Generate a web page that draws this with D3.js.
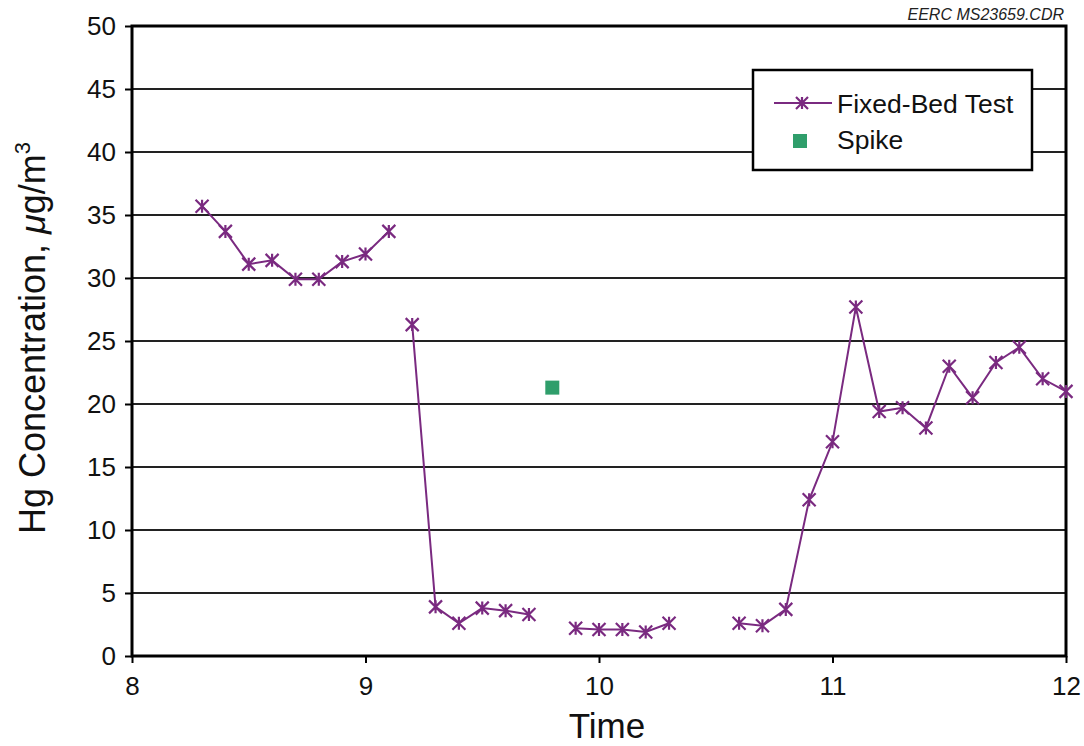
<!DOCTYPE html>
<html>
<head>
<meta charset="utf-8">
<script src="https://cdn.jsdelivr.net/npm/d3@7"></script>
<style>
  body { margin: 0; background: #fff; }
  text { font-family: "Liberation Sans", Arial, sans-serif; }
</style>
</head>
<body>
<div id="chart"></div>
<script>
// fixed-bed test readings, time vs Hg (null = no reading / break in line)
var times = [8.3, 8.4, 8.5, 8.6, 8.7, 8.8, 8.9, 9.0, 9.1, 9.15, 9.2, 9.3, 9.4, 9.5, 9.6, 9.7, 9.8,
             9.9, 10.0, 10.1, 10.2, 10.3, 10.4, 10.5, 10.6, 10.7, 10.8, 10.9, 11.0, 11.1,
             11.2, 11.3, 11.4, 11.5, 11.6, 11.7, 11.8, 11.9, 12.0];
var hg = [35.7, 33.7, 31.1, 31.4, 29.9, 29.9, 31.3, 31.9, 33.7, null, 26.3, 3.9, 2.6, 3.8, 3.6, 3.3, null,
          2.2, 2.1, 2.1, 1.9, 2.6, null, null, 2.6, 2.4, 3.7, 12.4, 17.0, 27.7,
          19.4, 19.7, 18.1, 23.0, 20.5, 23.3, 24.5, 22.0, 21.0];
var spikeTime = [9.8];
var spikeHg = [21.3];
var xTicks = [8, 9, 10, 11, 12];
var yTicks = [0, 5, 10, 15, 20, 25, 30, 35, 40, 45, 50];

var width = 1084, height = 746;
var mLeft = 132, mRight = 1066, mTop = 26, mBottom = 656;
var purple = "#7a2a80", green = "#2f9e6b";

var svg = d3.select("#chart").append("svg")
    .attr("width", width)
    .attr("height", height);

var x = d3.scaleLinear().domain([8, 12]).range([mLeft, mRight]);
var y = d3.scaleLinear().domain([0, 50]).range([mBottom, mTop]);

// grid lines
svg.append("g").selectAll("line")
    .data(yTicks)
    .enter().append("line")
    .attr("x1", mLeft).attr("x2", mRight)
    .attr("y1", function(d){ return y(d); })
    .attr("y2", function(d){ return y(d); })
    .attr("stroke", "#222")
    .attr("stroke-width", 2);

// y axis
var yAxis = svg.append("g")
    .attr("transform", "translate(" + mLeft + ",0)")
    .call(d3.axisLeft(y).tickValues(yTicks).tickFormat(d3.format("d")).tickSize(7).tickPadding(9));
yAxis.select(".domain").remove();
yAxis.selectAll("line").attr("stroke", "#000").attr("stroke-width", 2);
yAxis.selectAll("text").attr("font-size", 26).attr("fill", "#111")
    .attr("font-family", "Liberation Sans, Arial, sans-serif");

// x axis
var xAxis = svg.append("g")
    .attr("transform", "translate(0," + mBottom + ")")
    .call(d3.axisBottom(x).tickValues(xTicks).tickFormat(d3.format("d")).tickSize(7).tickPadding(14));
xAxis.select(".domain").remove();
xAxis.selectAll("line").attr("stroke", "#000").attr("stroke-width", 2);
xAxis.selectAll("text").attr("font-size", 26).attr("fill", "#111")
    .attr("font-family", "Liberation Sans, Arial, sans-serif");

// plot frame
svg.append("rect")
    .attr("x", mLeft).attr("y", mTop)
    .attr("width", mRight - mLeft).attr("height", mBottom - mTop)
    .attr("fill", "none")
    .attr("stroke", "#000")
    .attr("stroke-width", 3);

// series line
var pts = times.map(function(t, i){ return {t: t, v: hg[i]}; });
var line = d3.line()
    .defined(function(d){ return d.v !== null; })
    .x(function(d){ return x(d.t); })
    .y(function(d){ return y(d.v); });

svg.append("path")
    .datum(pts)
    .attr("d", line)
    .attr("fill", "none")
    .attr("stroke", purple)
    .attr("stroke-width", 2);

function star(g, s) {
    g.append("path")
        .attr("d", "M" + (-s) + "," + (-s) + "L" + s + "," + s +
                   "M" + (-s) + "," + s + "L" + s + "," + (-s) +
                   "M0," + (-s) + "L0," + s)
        .attr("stroke", purple)
        .attr("stroke-width", 2.2)
        .attr("fill", "none");
}

svg.append("g").selectAll("g")
    .data(pts.filter(function(d){ return d.v !== null; }))
    .enter().append("g")
    .attr("transform", function(d){ return "translate(" + x(d.t) + "," + y(d.v) + ")"; })
    .each(function(){ star(d3.select(this), 6.5); });

// spike point
svg.append("g").selectAll("rect")
    .data(spikeTime)
    .enter().append("rect")
    .attr("x", function(d){ return x(d) - 7; })
    .attr("y", function(d, i){ return y(spikeHg[i]) - 7; })
    .attr("width", 14).attr("height", 14)
    .attr("fill", green);

// legend
var lg = svg.append("g").attr("transform", "translate(753,70)");
lg.append("rect")
    .attr("width", 279).attr("height", 100)
    .attr("fill", "#fff")
    .attr("stroke", "#000")
    .attr("stroke-width", 2.5);
lg.append("line")
    .attr("x1", 21).attr("x2", 79).attr("y1", 33).attr("y2", 33)
    .attr("stroke", purple).attr("stroke-width", 2);
star(lg.append("g").attr("transform", "translate(49,33)"), 6);
lg.append("text").attr("x", 84).attr("y", 43)
    .attr("font-size", 26.5).attr("fill", "#111").text("Fixed-Bed Test");
lg.append("rect")
    .attr("x", 40).attr("y", 64).attr("width", 14).attr("height", 14)
    .attr("fill", green);
lg.append("text").attr("x", 84).attr("y", 79)
    .attr("font-size", 26.5).attr("fill", "#111").text("Spike");

// titles
svg.append("text")
    .attr("x", 607).attr("y", 738)
    .attr("text-anchor", "middle")
    .attr("font-size", 35).attr("fill", "#111")
    .text("Time");

var yl = svg.append("text")
    .attr("transform", "translate(45,338) rotate(-90)")
    .attr("text-anchor", "middle")
    .attr("font-size", 36).attr("fill", "#111");
yl.append("tspan").text("Hg Concentration, ");
yl.append("tspan").attr("font-style", "italic").text("μ");
yl.append("tspan").text("g/m");
yl.append("tspan").attr("font-size", 22).attr("dy", -15).text("3");

svg.append("text")
    .attr("x", 1064).attr("y", 20)
    .attr("text-anchor", "end")
    .attr("font-size", 16).attr("font-style", "italic").attr("fill", "#222")
    .text("EERC MS23659.CDR");
</script>
</body>
</html>
